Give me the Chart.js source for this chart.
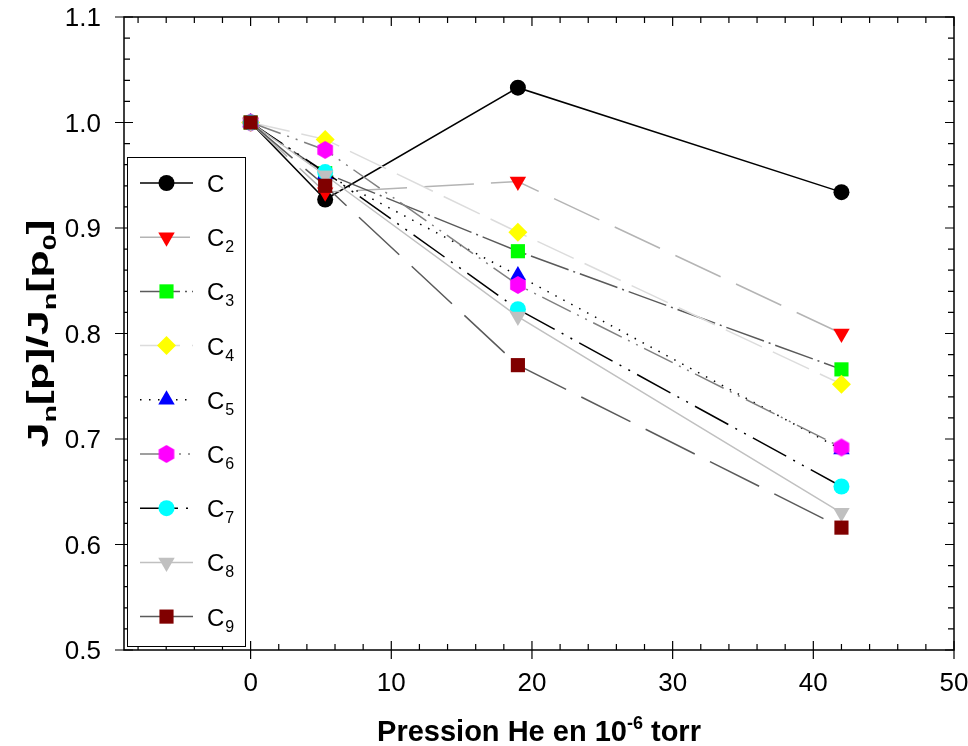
<!DOCTYPE html>
<html lang="fr">
<head>
  <meta charset="UTF-8" />
  <title>Jn[p]/Jn[p0] en fonction de la pression He</title>
  <script src="https://cdn.jsdelivr.net/npm/chart.js"></script>
  <style>
    html, body { margin: 0; padding: 0; background: #fff; }
    #cadre { width: 968px; height: 746px; }
  </style>
</head>
<body>
  <div id="cadre"><canvas id="graphique"></canvas></div>

  <script>
    // Données
    const pressions = [0, 5.3, 19, 42];
    const serieC  = [1.000, 0.927, 1.033, 0.934];
    const serieC2 = [1.000, 0.934, 0.944, 0.800];
    const serieC3 = [1.000, 0.952, 0.878, 0.766];
    const serieC4 = [1.000, 0.984, 0.896, 0.752];
    const serieC5 = [1.000, 0.951, 0.855, 0.690];
    const serieC6 = [1.000, 0.974, 0.846, 0.692];
    const serieC7 = [1.000, 0.953, 0.823, 0.655];
    const serieC8 = [1.000, 0.950, 0.816, 0.630];
    const serieC9 = [1.000, 0.940, 0.770, 0.616];

    const noms = ['C', 'C_2', 'C_3', 'C_4', 'C_5', 'C_6', 'C_7', 'C_8', 'C_9'];
    const ticksX = [0, 10, 20, 30, 40, 50];
    const ticksY = [0.5, 0.6, 0.7, 0.8, 0.9, 1.0, 1.1];

    const police = '"Liberation Sans", Arial, sans-serif';

    // hexagone (pas dispo dans Chart.js)
    function hexagone(couleur, r) {
      const c = document.createElement('canvas');
      const t = Math.ceil(r * 2) + 2;
      c.width = t; c.height = t;
      const g = c.getContext('2d');
      g.fillStyle = couleur;
      g.beginPath();
      for (let i = 0; i < 6; i++) {
        const a = Math.PI / 3 * i - Math.PI / 2;
        const px = t / 2 + r * Math.cos(a), py = t / 2 + r * Math.sin(a);
        if (i === 0) g.moveTo(px, py); else g.lineTo(px, py);
      }
      g.closePath();
      g.fill();
      return c;
    }

    const styles = [
      { ligne: '#000000', tirets: [], marque: '#000000', forme: 'circle', rayon: 8, rot: 0 },
      { ligne: '#b4b4b4', tirets: [50, 17], marque: '#ff0000', forme: 'triangle', rayon: 9.5, rot: 180 },
      { ligne: '#5a5a5a', tirets: [40, 5, 2, 5], marque: '#00ff00', forme: 'rect', rayon: 10, rot: 0 },
      { ligne: '#dcdcdc', tirets: [40, 12], marque: '#ffff00', forme: 'rectRot', rayon: 9.5, rot: 0 },
      { ligne: '#000000', tirets: [1.5, 7.5], marque: '#0000ff', forme: 'triangle', rayon: 9.5, rot: 0 },
      { ligne: '#808080', tirets: [32, 7, 2, 7, 2, 7], marque: '#ff00ff', forme: hexagone('#ff00ff', 9), rayon: 9, rot: 0 },
      { ligne: '#000000', tirets: [38, 8, 2, 8, 2, 8], marque: '#00ffff', forme: 'circle', rayon: 8, rot: 0 },
      { ligne: '#c0c0c0', tirets: [], marque: '#c0c0c0', forme: 'triangle', rayon: 9.5, rot: 180 },
      { ligne: '#5a5a5a', tirets: [55, 17], marque: '#800000', forme: 'rect', rayon: 10, rot: 0 }
    ];

    const series = [serieC, serieC2, serieC3, serieC4, serieC5, serieC6, serieC7, serieC8, serieC9];

    const datasets = series.map((vals, i) => ({
      label: noms[i],
      data: pressions.map((p, k) => ({ x: p, y: vals[k] })),
      showLine: true,
      borderColor: styles[i].ligne,
      borderWidth: 1.5,
      borderDash: styles[i].tirets,
      pointStyle: styles[i].forme,
      pointRotation: styles[i].rot,
      pointRadius: styles[i].rayon,
      pointHoverRadius: styles[i].rayon,
      pointBackgroundColor: styles[i].marque,
      pointBorderColor: styles[i].marque,
      pointBorderWidth: 0,
      order: series.length - 1 - i   // C9 dessiné en dernier
    }));

    // texte avec indices / exposants
    function texteMixte(ctx, morceaux, x, y, taille, aligne) {
      const petite = Math.round(taille * 0.62);
      let largeur = 0;
      morceaux.forEach(m => {
        ctx.font = 'bold ' + (m.t === 'n' ? taille : petite) + 'px ' + police;
        m.w = ctx.measureText(m.s).width;
        largeur += m.w;
      });
      let cx = aligne === 'center' ? x - largeur / 2 : x;
      morceaux.forEach(m => {
        ctx.font = 'bold ' + (m.t === 'n' ? taille : petite) + 'px ' + police;
        const dy = m.t === 'sub' ? taille * 0.28 : (m.t === 'sup' ? -taille * 0.42 : 0);
        ctx.fillText(m.s, cx, y + dy);
        cx += m.w;
      });
    }

    const decor = {
      id: 'decor',
      afterDatasetsDraw(chart) {
        const ctx = chart.ctx;
        const a = chart.chartArea;
        const sx = chart.scales.x, sy = chart.scales.y;
        ctx.save();

        // cadre
        ctx.strokeStyle = '#000';
        ctx.lineWidth = 1.5;
        ctx.setLineDash([]);
        ctx.strokeRect(a.left, a.top, a.right - a.left, a.bottom - a.top);

        // graduations
        ctx.lineWidth = 1.2;
        ctx.beginPath();
        for (let v = -8; v <= 50; v += 2) {
          const px = sx.getPixelForValue(v);
          const maj = v % 10 === 0;
          const L = maj ? 9 : 6;
          ctx.moveTo(px, a.bottom + (maj ? 9 : 0)); ctx.lineTo(px, a.bottom - L);
          ctx.moveTo(px, a.top); ctx.lineTo(px, a.top + L);
        }
        for (let k = 0; k <= 30; k++) {
          const v = 0.5 + k * 0.02;
          const py = sy.getPixelForValue(v);
          const maj = k % 5 === 0;
          const L = maj ? 9 : 6;
          ctx.moveTo(a.left - (maj ? 9 : 0), py); ctx.lineTo(a.left + L, py);
          ctx.moveTo(a.right, py); ctx.lineTo(a.right - L, py);
        }
        ctx.stroke();

        // étiquettes des graduations
        ctx.fillStyle = '#000';
        ctx.font = '26px ' + police;
        ctx.textBaseline = 'alphabetic';
        ctx.textAlign = 'center';
        ticksX.forEach(v => ctx.fillText(String(v), sx.getPixelForValue(v), 691));
        ctx.textAlign = 'right';
        ticksY.forEach(v => ctx.fillText(v.toFixed(1), 101, sy.getPixelForValue(v) + 9));

        // légende
        const bx = 127, by = 157, bw = 118, bh = 489;
        ctx.fillStyle = '#fff';
        ctx.fillRect(bx, by, bw, bh);
        ctx.strokeStyle = '#000';
        ctx.lineWidth = 1;
        ctx.strokeRect(bx + 0.5, by + 0.5, bw, bh);
        chart.data.datasets.forEach((d, i) => {
          const yy = 183 + i * 54.2;
          ctx.save();
          ctx.strokeStyle = d.borderColor;
          ctx.lineWidth = 1.5;
          ctx.setLineDash(d.borderDash);
          ctx.beginPath();
          ctx.moveTo(140, yy); ctx.lineTo(193, yy);
          ctx.stroke();
          ctx.restore();
          if (Chart.helpers && Chart.helpers.drawPoint) {
            ctx.save();
            ctx.fillStyle = d.pointBackgroundColor;
            ctx.strokeStyle = d.pointBorderColor;
            ctx.lineWidth = 0;
            Chart.helpers.drawPoint(ctx, {
              pointStyle: d.pointStyle, rotation: d.pointRotation,
              radius: d.pointRadius, borderWidth: 0
            }, 166.5, yy);
            ctx.restore();
          }
          const [base, ind] = d.label.split('_');
          ctx.fillStyle = '#000';
          ctx.textBaseline = 'alphabetic';
          ctx.textAlign = 'left';
          ctx.font = '24px ' + police;
          ctx.fillText(base, 207, yy + 9);
          if (ind) {
            const w = ctx.measureText(base).width;
            ctx.font = '16px ' + police;
            ctx.fillText(ind, 208 + w, yy + 15);
          }
        });

        // titres des axes
        ctx.fillStyle = '#000';
        ctx.textAlign = 'left';
        ctx.textBaseline = 'alphabetic';
        texteMixte(ctx, [
          { s: 'Pression He en 10', t: 'n' },
          { s: '-6', t: 'sup' },
          { s: ' torr', t: 'n' }
        ], (a.left + a.right) / 2, 741, 29, 'center');

        ctx.save();
        ctx.translate(48, (a.top + a.bottom) / 2);
        ctx.rotate(-Math.PI / 2);
        ctx.scale(1.5, 1);
        texteMixte(ctx, [
          { s: 'J', t: 'n' }, { s: 'n', t: 'sub' },
          { s: '[p]/J', t: 'n' }, { s: 'n', t: 'sub' },
          { s: '[p', t: 'n' }, { s: '0', t: 'sub' },
          { s: ']', t: 'n' }
        ], 0, 0, 30, 'center');
        ctx.restore();

        ctx.restore();
      }
    };

    new Chart(document.getElementById('graphique'), {
      type: 'scatter',
      data: { datasets },
      options: {
        responsive: true,
        maintainAspectRatio: false,
        animation: false,
        layout: { padding: { top: 17, right: 14, left: 0, bottom: 0 } },
        plugins: { legend: { display: false }, tooltip: { enabled: false } },
        scales: {
          x: {
            type: 'linear', min: -9, max: 50,
            afterBuildTicks: s => { s.ticks = ticksX.map(v => ({ value: v })); },
            afterFit: s => { s.height = 96; },
            grid: { display: false, drawTicks: false },
            border: { display: false },
            ticks: { display: false }
          },
          y: {
            min: 0.5, max: 1.1,
            afterBuildTicks: s => { s.ticks = ticksY.map(v => ({ value: v })); },
            afterFit: s => { s.width = 124; },
            grid: { display: false, drawTicks: false },
            border: { display: false },
            ticks: { display: false }
          }
        }
      },
      plugins: [decor]
    });
  </script>
</body>
</html>
